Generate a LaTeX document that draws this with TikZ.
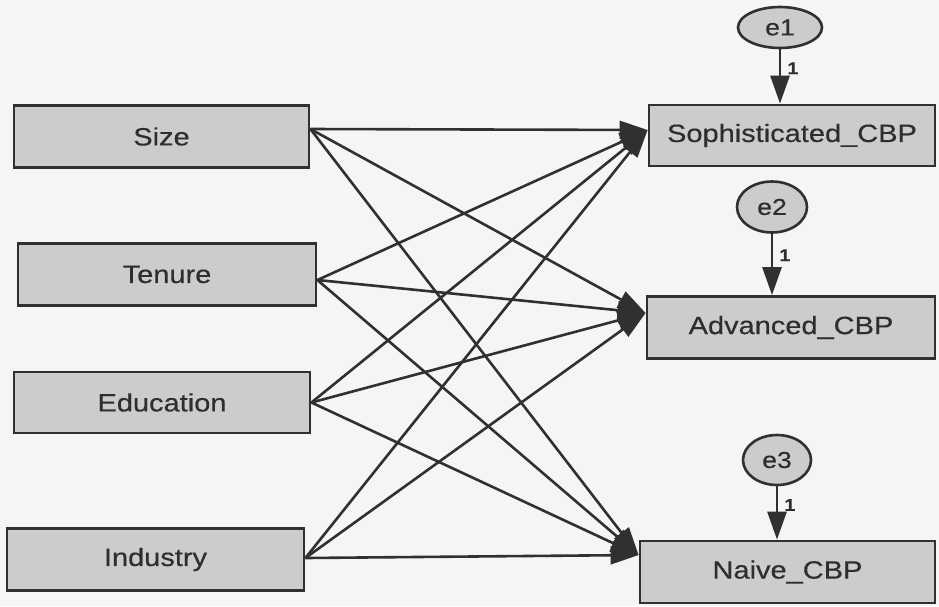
\documentclass[tikz,border=0pt]{standalone}
\usepackage{fontspec}
\setmainfont{Liberation Sans}[FakeStretch=1.16,FakeBold=0.4]
\usetikzlibrary{arrows.meta,shapes.geometric}
\definecolor{ink}{HTML}{303030}
\definecolor{boxfill}{HTML}{CCCCCC}
\definecolor{paper}{HTML}{F5F5F5}
\definecolor{txt}{HTML}{2E2E2E}
\begin{document}
\begin{tikzpicture}[x=1pt,y=-1pt,
  var/.style={draw=ink, line width=2.8pt, fill=boxfill, minimum height=62pt,
    inner sep=0pt, text=txt, font=\fontsize{25}{29}\selectfont},
  err/.style={ellipse, draw=ink, line width=2.6pt, fill=boxfill, inner sep=0pt,
    text=txt, font=\fontsize{23}{26}\selectfont},
  reg/.style={draw=ink, line width=2.6pt, -{Triangle[length=28pt,width=18pt]}},
  fix/.style={draw=ink, line width=2.8pt, -{Triangle[length=28pt,width=19pt]}},
  one/.style={font=\bfseries\fontsize{17}{19}\selectfont, text=txt, inner sep=0pt,
    anchor=west, xshift=6pt}]
  % canvas
  \fill[paper] (0,0) rectangle (939,606);
  \useasboundingbox (0,0) rectangle (939,606);

  % exogenous variables
  \node[var, minimum width=295pt] (size)   at (161.5,136.5) {Size};
  \node[var, minimum width=298pt] (tenure) at (167,274.5)   {Tenure};
  \node[var, minimum width=296pt, minimum height=61pt] (edu) at (162,402.5) {Education};
  \node[var, minimum width=297pt] (ind)    at (155.5,559.5) {Industry};

  % endogenous variables
  \node[var, minimum width=286pt, minimum height=61pt] (soph) at (792,135.5) {Sophisticated\_CBP};
  \node[var, minimum width=288pt] (adv)   at (791,327.5) {Advanced\_CBP};
  \node[var, minimum width=295pt] (naive) at (787.5,572) {Naive\_CBP};

  % error terms
  \node[err, minimum width=84pt, minimum height=41pt] (e1) at (780,27.5) {e1};
  \node[err, minimum width=70pt, minimum height=51pt] (e2) at (772,207)  {e2};
  \node[err, minimum width=68pt, minimum height=50pt] (e3) at (777,460)  {e3};

  % regression paths
  \foreach \src/\sy in {size/7.5, tenure/-5.5, edu/0, ind/1.5}{
    \draw[reg] ([yshift=\sy pt]\src.east) -- ([yshift=5.5pt]soph.west);
    \draw[reg] ([yshift=\sy pt]\src.east) -- ([yshift=14.5pt]adv.west);
    \draw[reg] ([yshift=\sy pt]\src.east) -- ([yshift=17pt]naive.west);
  }

  % error paths fixed to 1
  \draw[fix] (e1.south) -- node[one, pos=0.35] {1} (e1.south |- soph.north);
  \draw[fix] (e2.south) -- node[one, pos=0.35] {1} (e2.south |- adv.north);
  \draw[fix] (e3.south) -- node[one, pos=0.35] {1} (e3.south |- naive.north);
\end{tikzpicture}
\end{document}
